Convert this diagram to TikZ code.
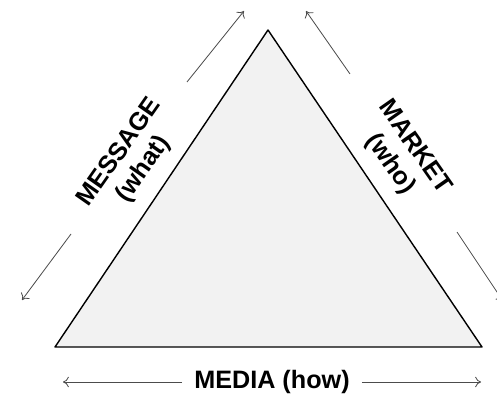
\documentclass[tikz,border=0pt]{standalone}
\usepackage{fontspec}
\setmainfont{Liberation Sans}
\usetikzlibrary{arrows.meta}
\begin{document}
\begin{tikzpicture}[x=0.03cm, y=-0.03cm, line join=round, side label/.style={font=\bfseries\fontsize{21.5}{25}\selectfont,align=center,inner sep=0pt}, hint arrow/.style={draw=black!70,line width=0.7pt,-{To[length=5pt,width=9pt]}}]
\useasboundingbox (0,0) rectangle (497,398);
% corners of the triangle
\coordinate (top) at (268,30);%apex
\coordinate (bl) at (55,347);%bottom left
\coordinate (br) at (482,347);%bottom right
\filldraw[fill=black!5, draw=black, line width=1.2pt] (top) -- (bl) -- (br) -- cycle;
\begin{scope}[every node/.style={side label}]
\node[rotate=55] (message) at (132,161) {MESSAGE\\(what)};
\node[rotate=-55] (market) at (402,156) {MARKET\\(who)};
\node (media) at (272,382) {MEDIA (how)};
\end{scope}
% ends of the arrows
\coordinate (m1) at (187,82);
\coordinate (m2) at (244,11);
\coordinate (m3) at (71,234);
\coordinate (m4) at (22,300);
\coordinate (k1) at (350,74);
\coordinate (k2) at (306,11);
\coordinate (k3) at (457,232);
\coordinate (k4) at (503,301);
\coordinate (d1) at (63,382);
\coordinate (d2) at (481,382);
\begin{scope}[every path/.style={hint arrow}]
\draw (m1) -- (m2);
\draw (m3) -- (m4);
\draw (k1) -- (k2);
\draw (k3) -- (k4);
\draw (media.west) ++(-12,0) -- (d1);
\draw (media.east) ++(12,0) -- (d2);
\end{scope}
\end{tikzpicture}
\end{document}
